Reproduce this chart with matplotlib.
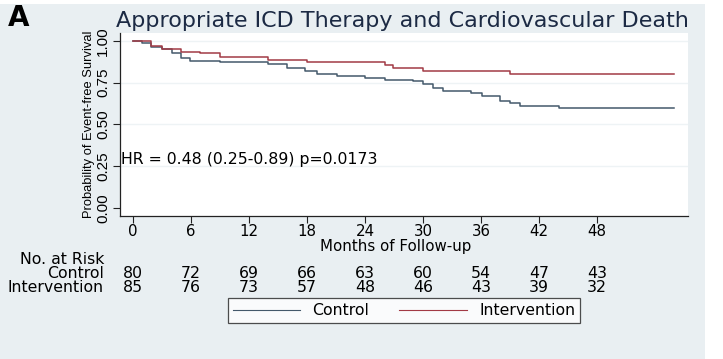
# Kaplan-Meier: Appropriate ICD Therapy and Cardiovascular Death
import matplotlib.pyplot as plt
from matplotlib.patches import Rectangle
from matplotlib.lines import Line2D
from matplotlib.transforms import blended_transform_factory

plt.rcParams['font.family'] = ['DejaVu Sans']

# step curves (month at which a step starts, survival after the step)
months_control = [0, 0.9, 1.9, 3.0, 4.0, 5.0, 5.9, 9.0, 14.0, 15.9, 17.8, 19.0, 21.1,
                  24.0, 26.1, 29.0, 30.0, 31.0, 32.1, 35.0, 36.1, 38.0, 39.0, 40.0, 44.1, 56.0]
surv_control = [1.000, 0.986, 0.966, 0.950, 0.930, 0.900, 0.880, 0.872, 0.860, 0.841, 0.823,
                0.805, 0.793, 0.781, 0.769, 0.760, 0.743, 0.721, 0.703, 0.688, 0.670, 0.640,
                0.627, 0.610, 0.597, 0.597]
months_interv = [0, 1.9, 3.0, 5.0, 6.9, 9.0, 14.0, 18.0, 26.1, 26.9, 30.0, 39.0, 56.0]
surv_interv = [1.000, 0.972, 0.950, 0.936, 0.926, 0.902, 0.886, 0.872, 0.856, 0.836,
               0.820, 0.802, 0.802]

risk_months = [0, 6, 12, 18, 24, 30, 36, 42, 48]
risk_control = [80, 72, 69, 66, 63, 60, 54, 47, 43]
risk_interv = [85, 76, 73, 57, 48, 46, 43, 39, 32]
yticks = [0.00, 0.25, 0.50, 0.75, 1.00]

bg = '#e9eff2'
c_control = '#44596b'
c_interv = '#a23a45'
fs = 11.3
narrow = ['Liberation Sans Narrow', 'Liberation Sans']

fig = plt.figure(figsize=(7.23, 3.59), dpi=100)
fig.patches.append(Rectangle((0, 0), 705 / 723, 355 / 359, transform=fig.transFigure,
                             facecolor=bg, edgecolor='none', zorder=-10))

ax = fig.add_axes([120 / 723, (359 - 216) / 359, (688 - 120) / 723, (216 - 33) / 359])
ax.set_facecolor('white')
ax.step(months_control, surv_control, where='post', color=c_control, lw=1.1)
ax.step(months_interv, surv_interv, where='post', color=c_interv, lw=1.1)

ax.set_xlim(-1.35, 57.4)
ax.set_ylim(-0.049, 1.048)
ax.set_xticks(risk_months)
ax.set_yticks(yticks)
ax.set_yticklabels(['%.2f' % v for v in yticks], rotation=90, va='center',
                   family=narrow, fontsize=11)
ax.tick_params(axis='x', labelsize=10.8, length=5, width=0.8, color='#222222', pad=1)
ax.tick_params(axis='y', length=5, width=0.8, color='#222222', pad=2)
for v in yticks[1:]:
    ax.axhline(v, color='#eef3f5', lw=1, zorder=0)
for s in ['top', 'right']:
    ax.spines[s].set_visible(False)
for s in ['left', 'bottom']:
    ax.spines[s].set_color('#222222')
    ax.spines[s].set_linewidth(0.9)

ax.set_xlabel('Months of Follow-up', fontsize=10.8, va='center')
ax.xaxis.set_label_coords((396 - 120) / 568, (216 - 246) / 183)
ax.set_ylabel('Probability of Event-free Survival', fontsize=9.3, labelpad=1, family=narrow)
ax.text(-1.25, 0.29, 'HR = 0.48 (0.25-0.89) p=0.0173', fontsize=fs, va='center', ha='left')

fig.text(116 / 723, 1 - 21 / 359, 'Appropriate ICD Therapy and Cardiovascular Death',
         fontsize=16, color='#1c2a44', va='center', ha='left')
fig.text(8 / 723, 1 - 18 / 359, 'A', fontsize=20, fontweight='bold', va='center', ha='left')

# number at risk table
tr = blended_transform_factory(ax.transData, fig.transFigure)
fig.text(104 / 723, 1 - 259 / 359, 'No. at Risk', fontsize=fs, ha='right', va='center')
fig.text(104 / 723, 1 - 273 / 359, 'Control', fontsize=fs, ha='right', va='center')
fig.text(104 / 723, 1 - 287 / 359, 'Intervention', fontsize=fs, ha='right', va='center')
for m, n1, n2 in zip(risk_months, risk_control, risk_interv):
    ax.text(m, 1 - 273 / 359, str(n1), transform=tr, fontsize=fs, ha='center', va='center')
    ax.text(m, 1 - 287 / 359, str(n2), transform=tr, fontsize=fs, ha='center', va='center')

# legend box
handles = [Line2D([], [], color=c_control, lw=0.8), Line2D([], [], color=c_interv, lw=0.8)]
leg = fig.legend(handles, ['Control', 'Intervention'], loc='center',
                 bbox_to_anchor=(404 / 723, 1 - 310.5 / 359), ncol=2, fontsize=fs,
                 frameon=True, fancybox=False, handlelength=4.3, columnspacing=1.9,
                 handletextpad=0.8, borderpad=0.3, borderaxespad=0)
leg.get_frame().set_edgecolor('#222222')
leg.get_frame().set_linewidth(0.9)

fig.savefig('out.png', dpi=100)
